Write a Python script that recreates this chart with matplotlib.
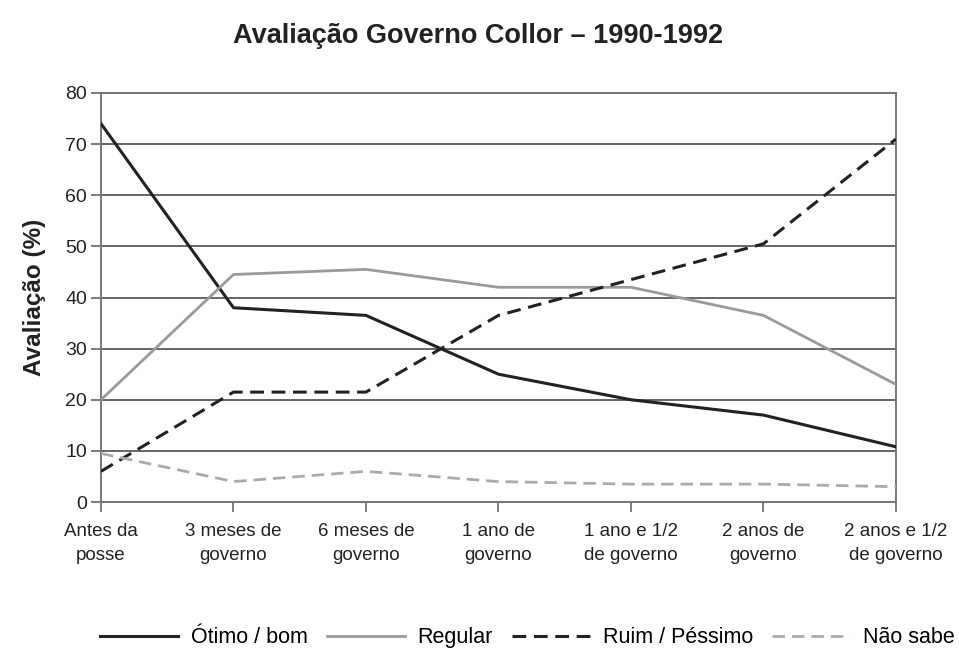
import matplotlib
matplotlib.use("Agg")
import matplotlib.pyplot as plt

# data
periods = [
    "Antes da\nposse",
    "3 meses de\ngoverno",
    "6 meses de\ngoverno",
    "1 ano de\ngoverno",
    "1 ano e 1/2\nde governo",
    "2 anos de\ngoverno",
    "2 anos e 1/2\nde governo",
]
otimo_bom = [74, 38, 36.5, 25, 20, 17, 10.8]
regular = [20, 44.5, 45.5, 42, 42, 36.5, 23]
ruim_pessimo = [6, 21.5, 21.5, 36.5, 43.5, 50.5, 71]
nao_sabe = [9.5, 4, 6, 4, 3.5, 3.5, 3]

plt.rcParams["font.family"] = ["Liberation Sans", "DejaVu Sans"]

fig = plt.figure(figsize=(9.59, 6.53), dpi=100)
ax = fig.add_axes([0.1053, 0.2312, 0.829, 0.6264])

x = list(range(len(periods)))

# gridlines first so the series sit on top
ax.yaxis.grid(True, color="#5a5a5a", linewidth=1.3, zorder=0)
ax.set_axisbelow(True)

ax.plot(x, otimo_bom, color="#222222", linewidth=2.2, label="Ótimo / bom", zorder=3)
ax.plot(x, regular, color="#9a9a9a", linewidth=2.0, label="Regular", zorder=3)
ax.plot(x, ruim_pessimo, color="#222222", linewidth=2.2, linestyle=(0, (4.5, 2.5)),
        label="Ruim / Péssimo", zorder=3)
ax.plot(x, nao_sabe, color="#ababab", linewidth=2.0, linestyle=(0, (4.5, 2.5)),
        label="Não sabe", zorder=3)

ax.set_xlim(0, len(periods) - 1)
ax.set_ylim(0, 80)
ax.set_yticks(range(0, 81, 10))
ax.set_xticks(x)
ax.set_xticklabels(periods, fontsize=13.5, color="#222222", linespacing=1.55)
ax.tick_params(axis="y", labelsize=14, labelcolor="#222222", length=7, width=1.2,
               color="#666666", pad=3)
ax.tick_params(axis="x", length=7, width=1.2, color="#666666", pad=8)

for side in ["left", "right", "top", "bottom"]:
    ax.spines[side].set_color("#777777")
    ax.spines[side].set_linewidth(1.4)

ax.set_ylabel("Avaliação (%)", fontsize=17.5, fontweight="bold", color="#222222", labelpad=14)
fig.text(0.499, 0.945, "Avaliação Governo Collor – 1990-1992", ha="center", va="center",
         fontsize=19.5, fontweight="bold", color="#222222")

fig.legend(loc="center", bbox_to_anchor=(0.55, 0.023), ncol=4, frameon=False,
           fontsize=15.5, handlelength=3.6, columnspacing=0.9, handletextpad=0.6)

plt.savefig("out.png", dpi=100)
